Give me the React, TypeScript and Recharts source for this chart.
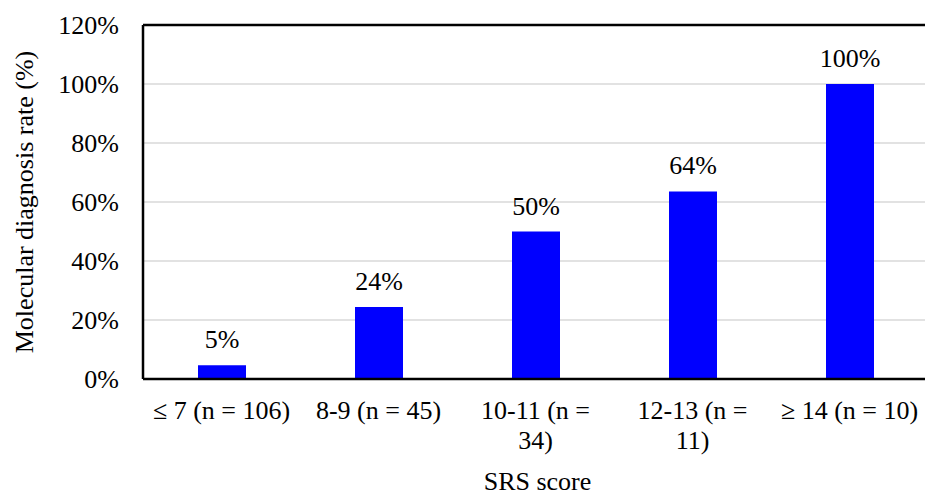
import { BarChart, Bar, XAxis, YAxis, CartesianGrid, LabelList, ReferenceLine, Label } from 'recharts'

// SRS score groups (line breaks follow the wrapping in the figure)
const categories = ['≤ 7 (n = 106)', '8-9 (n = 45)', '10-11 (n =\n34)', '12-13 (n =\n11)', '≥ 14 (n = 10)']
// molecular diagnosis rate, %
const rates = [4.7, 24.4, 50, 63.6, 100]
const yTicks = [0, 20, 40, 60, 80, 100, 120]

const data = categories.map((c, i) => ({ group: c, rate: rates[i] }))

const FONT = 'Liberation Serif'
const FS = 26

function XTick({ x, y, payload }: any) {
  const lines = String(payload.value).split('\n')
  return (
    <text x={x} y={y} textAnchor="middle" fontSize={FS} fontFamily={FONT} fill="#000">
      {lines.map((l, i) => (
        <tspan key={i} x={x} dy={i === 0 ? 40 : 30}>{l}</tspan>
      ))}
    </text>
  )
}

function YTick({ x, y, payload }: any) {
  return (
    <text x={x} y={y} dy={9} textAnchor="end" fontSize={FS} fontFamily={FONT} fill="#000">
      {payload.value}%
    </text>
  )
}

function YTitle({ viewBox }: any) {
  const cy = viewBox.y + viewBox.height / 2
  const cx = 24
  return (
    <text x={cx} y={cy} transform={`rotate(-90 ${cx} ${cy})`} textAnchor="middle" dy={9}
      fontSize={FS} fontFamily={FONT} fill="#000">
      Molecular diagnosis rate (%)
    </text>
  )
}

function XTitle({ viewBox }: any) {
  return (
    <text x={viewBox.x + viewBox.width / 2 + 2} y={490} textAnchor="middle" fontSize={FS} fontFamily={FONT} fill="#000">
      SRS score
    </text>
  )
}

function BarValue({ x, y, width, value }: any) {
  return (
    <text x={x + width / 2} y={y - 17} textAnchor="middle" fontSize={FS} fontFamily={FONT} fill="#000">
      {Math.round(value)}%
    </text>
  )
}

export default function App() {
  return (
    <div>
      {/* warm up the serif face before the chart is drawn */}
      <svg width={1} height={1} style={{ position: 'absolute', left: -100, top: -100 }}>
        <text x={0} y={0} fontSize={FS} fontFamily={FONT}>Molecular 0%</text>
      </svg>
      <div style={{ position: 'absolute', left: 0, top: 0 }}>
        <BarChart width={925} height={498} data={data} margin={{ top: 25, right: -3, left: 0, bottom: 0 }}>
          <CartesianGrid horizontal vertical={false} stroke="#d9d9d9" strokeWidth={1.5} />
          <XAxis
            dataKey="group"
            height={119}
            tick={<XTick />}
            tickLine={false}
            tickSize={0}
            tickMargin={0}
            interval={0}
            axisLine={{ stroke: '#000', strokeWidth: 2.5 }}
          >
            <Label content={<XTitle />} />
          </XAxis>
          <YAxis
            width={143}
            domain={[0, 120]}
            ticks={yTicks}
            tick={<YTick />}
            tickLine={false}
            tickSize={0}
            tickMargin={24}
            axisLine={{ stroke: '#000', strokeWidth: 2.5 }}
          >
            <Label content={<YTitle />} />
          </YAxis>
          <ReferenceLine y={120} stroke="#000" strokeWidth={2.5} />
          <Bar dataKey="rate" fill="#0000ff" barSize={48} isAnimationActive={false}>
            <LabelList dataKey="rate" content={<BarValue />} />
          </Bar>
        </BarChart>
      </div>
    </div>
  )
}
